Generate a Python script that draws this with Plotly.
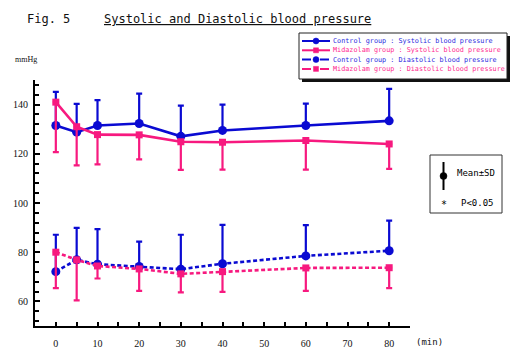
import plotly.graph_objects as go

W, H = 511, 349

# ---- data ----
time_min = [0, 5, 10, 20, 30, 40, 60, 80]
ctrl_sys = [131.5, 128.8, 131.5, 132.3, 127.1, 129.5, 131.5, 133.4]
ctrl_sys_sd = [13.7, 11.5, 10.3, 12.2, 12.5, 10.5, 8.9, 13.0]
mid_sys = [141.0, 131.0, 127.8, 127.7, 124.9, 124.7, 125.4, 124.0]
mid_sys_sd = [20.3, 15.7, 12.1, 10.0, 11.4, 11.1, 11.8, 10.1]
ctrl_dia = [72.1, 76.9, 75.1, 74.2, 73.1, 75.3, 78.5, 80.6]
ctrl_dia_sd = [15.0, 13.0, 14.3, 10.1, 14.0, 15.8, 12.5, 12.2]
mid_dia = [80.0, 76.9, 74.4, 73.2, 71.2, 72.1, 73.6, 73.7]
mid_dia_sd = [14.6, 16.5, 5.1, 8.9, 7.5, 8.2, 9.3, 8.3]

series_names = [
    "Control group : Systolic blood pressure",
    "Midazolam group : Systolic blood pressure",
    "Control group : Diastolic blood pressure",
    "Midazolam group : Diastolic blood pressure",
]
x_tick_vals = [0, 10, 20, 30, 40, 50, 60, 70, 80]
y_tick_vals = [60, 80, 100, 120, 140]

BLUE = "#0A0AD2"
PINK = "#F7197F"
BLUE_TXT = "#2A2AE0"
PINK_TXT = "#FF2A90"
MONO = "DejaVu Sans Mono"
SERIF = "Liberation Serif"
DASH = "4px,2.5px"

def X(px):
    return px / W

def Y(py):
    return 1 - py / H

fig = go.Figure()

def add_series(y, sd, name, color, dash, symbol, size, up):
    err = dict(type="data", symmetric=False, color=color, thickness=2.2, width=3)
    if up:
        err.update(array=sd, arrayminus=[0] * len(sd))
    else:
        err.update(array=[0] * len(sd), arrayminus=sd)
    fig.add_trace(go.Scatter(
        x=time_min, y=y, name=name, mode="lines+markers",
        line=dict(color=color, width=2.6, dash=dash),
        marker=dict(color=color, symbol=symbol, size=size),
        error_y=err, showlegend=False, cliponaxis=False,
    ))

add_series(ctrl_sys, ctrl_sys_sd, series_names[0], BLUE, "solid", "circle", 9, True)
add_series(mid_sys, mid_sys_sd, series_names[1], PINK, "solid", "square", 7, False)
add_series(ctrl_dia, ctrl_dia_sd, series_names[2], BLUE, DASH, "circle", 9, True)
add_series(mid_dia, mid_dia_sd, series_names[3], PINK, DASH, "square", 7, False)

shapes = []
annotations = []

# ---- custom legend box ----
lx0, ly0, lx1, ly1 = 299, 33, 507, 79
shapes.append(dict(type="rect", xref="paper", yref="paper",
                   x0=X(lx0 + 3), x1=X(lx1 + 3), y0=Y(ly0 + 3), y1=Y(ly1 + 3),
                   fillcolor="#111", line=dict(width=0), layer="above"))
shapes.append(dict(type="rect", xref="paper", yref="paper",
                   x0=X(lx0), x1=X(lx1), y0=Y(ly0), y1=Y(ly1),
                   fillcolor="white", line=dict(color="#222", width=1), layer="above"))
row_y = [41, 50.3, 59.6, 68.9]
styles = [(BLUE, "solid", "circle", BLUE_TXT), (PINK, "solid", "square", PINK_TXT),
          (BLUE, "dash", "circle", BLUE_TXT), (PINK, "dash", "square", PINK_TXT)]
for ry, name, (col, dsh, sym, tcol) in zip(row_y, series_names, styles):
    shapes.append(dict(type="line", xref="paper", yref="paper",
                       x0=X(302), x1=X(330), y0=Y(ry), y1=Y(ry),
                       line=dict(color=col, width=2, dash="dash" if dsh == "dash" else "solid"),
                       layer="above"))
    if sym == "circle":
        shapes.append(dict(type="circle", xref="paper", yref="paper",
                           x0=X(313), x1=X(319), y0=Y(ry - 3), y1=Y(ry + 3),
                           fillcolor=col, line=dict(color=col, width=0.5), layer="above"))
    else:
        shapes.append(dict(type="rect", xref="paper", yref="paper",
                           x0=X(313.5), x1=X(318.5), y0=Y(ry - 2.5), y1=Y(ry + 2.5),
                           fillcolor=col, line=dict(color=col, width=0.5), layer="above"))
    annotations.append(dict(xref="paper", yref="paper", x=X(331), y=Y(ry),
                            xanchor="left", yanchor="middle", showarrow=False,
                            text=name, font=dict(family=MONO, size=6.8, color=tcol)))

# ---- Mean ± SD box ----
shapes.append(dict(type="rect", xref="paper", yref="paper",
                   x0=X(430), x1=X(502), y0=Y(155), y1=Y(213),
                   fillcolor="white", line=dict(color="#333", width=1), layer="above"))
shapes.append(dict(type="line", xref="paper", yref="paper",
                   x0=X(443.5), x1=X(443.5), y0=Y(162), y1=Y(190),
                   line=dict(color="black", width=2), layer="above"))
shapes.append(dict(type="circle", xref="paper", yref="paper",
                   x0=X(440), x1=X(447), y0=Y(172.5), y1=Y(179.5),
                   fillcolor="black", line=dict(color="black", width=0.5), layer="above"))
annotations.append(dict(xref="paper", yref="paper", x=X(455), y=Y(173),
                        xanchor="left", yanchor="middle", showarrow=False,
                        text="Mean±SD", font=dict(family=MONO, size=9, color="black")))
annotations.append(dict(xref="paper", yref="paper", x=X(443.5), y=Y(204),
                        xanchor="center", yanchor="middle", showarrow=False,
                        text="*", font=dict(family=MONO, size=10, color="black")))
annotations.append(dict(xref="paper", yref="paper", x=X(459), y=Y(203),
                        xanchor="left", yanchor="middle", showarrow=False,
                        text="P&lt;0.05", font=dict(family=MONO, size=9, color="black")))

# ---- titles / labels ----
annotations.append(dict(xref="paper", yref="paper", x=X(25), y=Y(19),
                        xanchor="left", yanchor="middle", showarrow=False,
                        text="Fig. 5", font=dict(family=MONO, size=12, color="#111")))
annotations.append(dict(xref="paper", yref="paper", x=X(102), y=Y(19),
                        xanchor="left", yanchor="middle", showarrow=False,
                        text="<u>Systolic and Diastolic blood pressure</u>",
                        font=dict(family=MONO, size=12, color="#111")))
annotations.append(dict(xref="paper", yref="paper", x=X(13), y=Y(60),
                        xanchor="left", yanchor="middle", showarrow=False,
                        text="mmHg", font=dict(family=SERIF, size=8, color="#111")))
annotations.append(dict(xref="paper", yref="paper", x=X(414), y=Y(342),
                        xanchor="left", yanchor="middle", showarrow=False,
                        text="(min)", font=dict(family=MONO, size=9, color="#111")))

fig.update_layout(
    width=W, height=H,
    margin=dict(l=0, r=0, t=0, b=0),
    paper_bgcolor="white", plot_bgcolor="white",
    showlegend=False,
    shapes=shapes, annotations=annotations,
    xaxis=dict(domain=[X(35), X(410)], range=[-5, 85], tickvals=x_tick_vals,
               showgrid=False, zeroline=False, showline=True, linecolor="black", linewidth=2,
               ticks="inside", ticklen=4, tickwidth=1.5, tickcolor="black",
               minor=dict(dtick=5, tick0=0, ticks="inside", ticklen=4, tickwidth=1.5, tickcolor="black"),
               tickfont=dict(family=SERIF, size=10, color="#111"), ticklabelstandoff=7,
               fixedrange=True),
    yaxis=dict(domain=[Y(326), Y(80)], range=[50, 150], tickvals=y_tick_vals,
               showgrid=False, zeroline=False, showline=True, linecolor="black", linewidth=2,
               ticks="inside", ticklen=5, tickwidth=1.5, tickcolor="black",
               minor=dict(dtick=4, tick0=0, ticks="inside", ticklen=3.5, tickwidth=1.5, tickcolor="black"),
               tickfont=dict(family=SERIF, size=10, color="#111"), ticklabelstandoff=3,
               fixedrange=True),
)

fig.write_html(
    "out.html",
    config={"displayModeBar": False},
    post_script="document.body.style.margin='0';document.body.style.overflow='hidden';",
)
